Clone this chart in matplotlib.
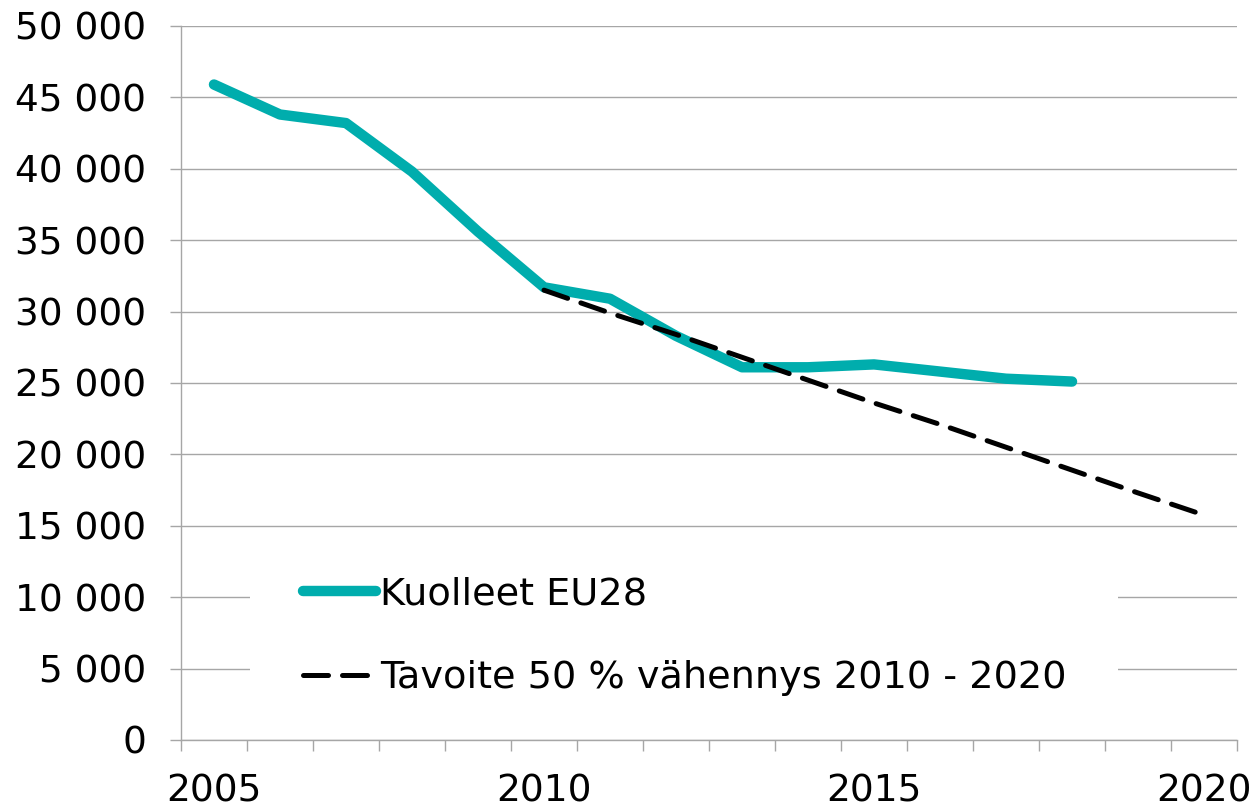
import matplotlib
matplotlib.use("Agg")
import matplotlib.pyplot as plt
from matplotlib import patches
import numpy

years = list( range( 2005, 2021 ) )
deaths_years = list( range( 2005, 2019 ) )
deaths = [ 45900, 43800, 43200, 39800, 35600, 31700, 30900, 28300, 26100, 26100, 26300, 25800, 25300, 25100 ]
target_years = list( range( 2010, 2021 ) )
target = [ 31500, 29900, 28400, 26800, 25200, 23600, 22100, 20500, 18900, 17300, 15750 ]
label_years = [ 2005, 2010, 2015, 2020 ]
y_ticks = list( range( 0, 50001, 5000 ) )

grid_color = "#a6a6a6"
teal = "#00adad"

plt.rcParams['font.family'] = [ 'DejaVu Sans' ]

figure = plt.figure( figsize=[12.55, 8.09], dpi=100 )
axes = figure.add_axes( [ 0.1442, 0.0853, 0.8415, 0.8826 ] )

def pos( year ):
    return years.index( year )

axes.plot( [ pos( y ) for y in deaths_years ], deaths, color=teal, linewidth=7.5,
           solid_capstyle='round', solid_joinstyle='round', label="Kuolleet EU28", zorder=3 )
axes.plot( [ pos( y ) for y in target_years ], target, color='black', linewidth=3.6,
           dashes=[ 5, 2.8 ], dash_capstyle='round', label="Tavoite 50 % vähennys 2010 - 2020", zorder=4 )

axes.set_xlim( -0.5, len( years ) - 0.5 )
axes.set_ylim( 0, 50000 )
axes.set_yticks( y_ticks )
axes.set_yticklabels( [ "{:,}".format( v ).replace( ",", " " ) for v in y_ticks ] )
axes.set_xticks( [ pos( y ) for y in label_years ] )
axes.set_xticklabels( [ str( y ) for y in label_years ] )
axes.set_xticks( numpy.arange( -0.5, len( years ), 1.0 ), minor=True )

axes.tick_params( axis='x', which='major', length=0, pad=24, labelsize=27 )
axes.tick_params( axis='x', which='minor', length=8, width=1, color=grid_color )
axes.tick_params( axis='y', which='major', length=8, width=1, color=grid_color, pad=17, labelsize=27 )

axes.grid( axis='y', color=grid_color, linewidth=1 )
axes.set_axisbelow( True )
for side in [ 'top', 'right' ]:
    axes.spines[side].set_visible( False )
for side in [ 'left', 'bottom' ]:
    axes.spines[side].set_color( grid_color )
    axes.spines[side].set_linewidth( 1 )

# white box behind the legend hides the gridlines
axes.add_patch( patches.Rectangle( ( 0.0653, 0.02 ), 0.822, 0.26, transform=axes.transAxes,
                                   facecolor='white', edgecolor='none', zorder=2 ) )

legend = axes.legend( loc='center left', bbox_to_anchor=( 0.1155, 0.145 ), fontsize=27.5,
                      frameon=False, borderpad=0, borderaxespad=0, handlelength=1.9,
                      handletextpad=0.13, labelspacing=1.25 )
legend.set_zorder( 5 )

plt.savefig( "out.png" )
